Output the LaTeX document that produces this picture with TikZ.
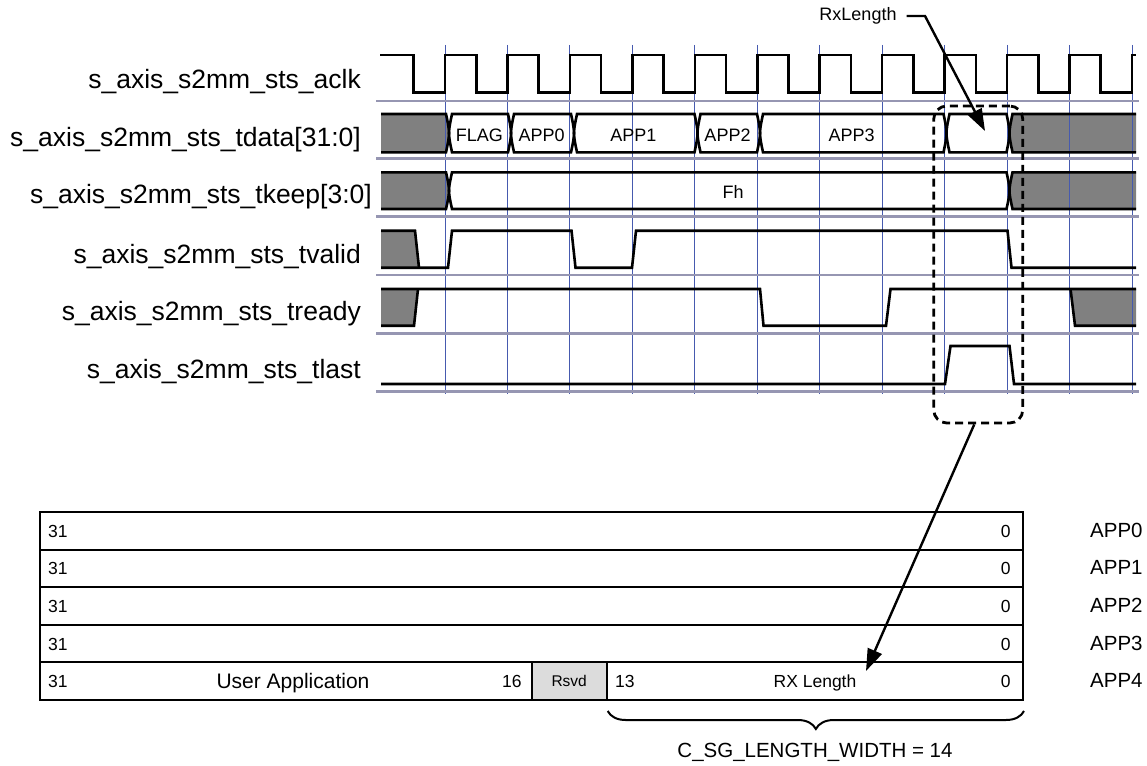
\documentclass[tikz,border=0pt]{standalone}
\usepackage{fontspec}
\setmainfont{Liberation Sans}
\usetikzlibrary{arrows.meta,decorations.pathreplacing}
\definecolor{gridblue}{RGB}{70,90,175}
\definecolor{sepgray}{RGB}{150,150,178}
\definecolor{wavegray}{RGB}{128,128,128}
\definecolor{rsvdgray}{RGB}{220,220,220}
\newcommand\segcc[5]{\path[#1] ({#2+3},#4) -- ({#3-3},#4) .. controls ({#3+1},{(#4+#5)/2}) .. ({#3-3},#5) -- ({#2+3},#5) .. controls ({#2-1},{(#4+#5)/2}) .. cycle;}
\tikzset{
 siglbl/.style={anchor=base east, inner sep=0pt, font=\fontsize{26.5}{30}\selectfont},
 buslbl/.style={anchor=base, inner sep=0pt, font=\fontsize{18}{20}\selectfont},
 reglbl/.style={anchor=base, inner sep=0pt, font=\fontsize{17.5}{20}\selectfont},
 applbl/.style={anchor=base west, inner sep=0pt, font=\fontsize{20.5}{24}\selectfont},
 wave/.style={line width=2.6pt, line join=miter},
 gridln/.style={line width=0.9pt, draw=gridblue},
 sepln/.style={line width=2.6pt, draw=sepgray},
 regrow/.style={draw, line width=2pt, minimum width=983pt, minimum height=37.6pt, inner sep=0pt},
 selbox/.style={draw, line width=2.8pt, dash pattern=on 8pt off 5pt, rounded corners=13pt, minimum width=89pt, minimum height=317pt, inner sep=0pt},
 arr/.style={line width=2.4pt, -{Triangle[length=22pt,width=15pt]}},
 bracestyle/.style={line width=2pt, decorate, decoration={brace, mirror, amplitude=18pt}},
}
\begin{document}
\begin{tikzpicture}[x=1pt,y=-1pt]
\useasboundingbox (0,0) rectangle (1147,765);

% grey fills
\fill[wavegray] (381,114) -- (446,114) .. controls (450,133.15) .. (446,152.3) -- (381,152.3) -- cycle;
\fill[wavegray] (1136,114) -- (1012.5,114) .. controls (1008.5,133.15) .. (1012.5,152.3) -- (1136,152.3) -- cycle;
\fill[wavegray] (381,172.3) -- (446,172.3) .. controls (450,190.65) .. (446,209) -- (381,209) -- cycle;
\fill[wavegray] (1136,172.3) -- (1012.5,172.3) .. controls (1008.5,190.65) .. (1012.5,209) -- (1136,209) -- cycle;
\fill[wavegray] (381,230.7) -- (415,230.7) -- (419,267.7) -- (381,267.7) -- cycle;
\fill[wavegray] (381,289) -- (418,289) -- (414,325.7) -- (381,325.7) -- cycle;
\fill[wavegray] (1070.5,289) -- (1136,289) -- (1136,325.7) -- (1075,325.7) -- cycle;

% grid lines
\foreach \i in {0,...,11} \draw[gridln] ({445+62.45*\i},45) -- ({445+62.45*\i},394);
% row separators
\foreach \yy in {101,158.3,216.7,275,333.3,391.7} \draw[sepln] (376,\yy) -- (1139,\yy);

% clock
\draw[wave] (380,55) foreach \i in {0,...,11} { -- ({413.775+62.45*\i},55) -- ({413.775+62.45*\i},92.7) -- ({445+62.45*\i},92.7) -- ({445+62.45*\i},55) } -- (1136,55);

% tdata
\draw[wave] (381,114) -- (446,114) .. controls (450,133.15) .. (446,152.3) -- (381,152.3);
\segcc{draw,wave}{449}{511}{114}{152.3}
\segcc{draw,wave}{511}{574}{114}{152.3}
\segcc{draw,wave}{574}{697.5}{114}{152.3}
\segcc{draw,wave}{697.5}{760}{114}{152.3}
\segcc{draw,wave}{760}{946.5}{114}{152.3}
\segcc{draw,wave}{946.5}{1009.5}{114}{152.3}
\draw[wave] (1136,114) -- (1012.5,114) .. controls (1008.5,133.15) .. (1012.5,152.3) -- (1136,152.3);

% tkeep
\draw[wave] (381,172.3) -- (446,172.3) .. controls (450,190.65) .. (446,209) -- (381,209);
\segcc{draw,wave}{449}{1009.5}{172.3}{209}
\draw[wave] (1136,172.3) -- (1012.5,172.3) .. controls (1008.5,190.65) .. (1012.5,209) -- (1136,209);

% tvalid
\draw[wave] (381,230.7) -- (415,230.7) -- (419,267.7);
\draw[wave] (381,267.7) -- (448,267.7) -- (452,230.7) -- (571.5,230.7) -- (575.5,267.7) -- (632,267.7) -- (636,230.7) -- (1007.5,230.7) -- (1011.5,267.7) -- (1136,267.7);

% tready
\draw[wave] (381,325.7) -- (414,325.7) -- (418,289);
\draw[wave] (381,289) -- (760,289) -- (763.5,325.7) -- (886,325.7) -- (890.5,289) -- (1136,289);
\draw[wave] (1070.5,289) -- (1075,325.7) -- (1136,325.7);

% tlast
\draw[wave] (381,384) -- (945,384) -- (950.5,346) -- (1009.5,346) -- (1014,384) -- (1136,384);

% signal labels
\node[siglbl] (lclk)   at (361,88.3)  {s\_axis\_s2mm\_sts\_aclk};
\node[siglbl] (ldata)  at (361,146.7) {s\_axis\_s2mm\_sts\_tdata[31:0]};
\node[siglbl] (lkeep)  at (372,203)   {s\_axis\_s2mm\_sts\_tkeep[3:0]};
\node[siglbl] (lvalid) at (361,263)   {s\_axis\_s2mm\_sts\_tvalid};
\node[siglbl] (lready) at (361,320)   {s\_axis\_s2mm\_sts\_tready};
\node[siglbl] (llast)  at (361,378.3) {s\_axis\_s2mm\_sts\_tlast};

% bus labels
\node[buslbl] (tflag) at (479.3,141.7) {FLAG};
\node[buslbl] (tapp0) at (541.7,141.7) {APP0};
\node[buslbl] (tapp1) at (633.3,141.7) {APP1};
\node[buslbl] (tapp2) at (727.5,141.7) {APP2};
\node[buslbl] (tapp3) at (851.7,141.7) {APP3};
\node[buslbl] (tfh)   at (733,198.3)   {Fh};

% register table
\foreach \n/\yy in {0/530.8,1/568.4,2/606,3/643.6,4/681.2} {
  \node[regrow] (r\n) at (531.5,\yy) {};
  \node[reglbl, anchor=base west] (hi\n) at (48,\yy+6.5) {31};
  \node[reglbl] (lo\n) at (1005.7,\yy+6.5) {0};
  \node[applbl] (app\n) at (1090,\yy+6.5) {APP\n};
}
\node[reglbl, font=\fontsize{21}{24}\selectfont] (ua) at (293,688.5) {User Application};
\node[reglbl, anchor=base east] (b16) at (521.7,687.7) {16};
\node[draw, line width=2pt, fill=rsvdgray, minimum width=75pt, minimum height=37.6pt, inner sep=0pt, font=\fontsize{15.5}{18}\selectfont] (rsvd) at (569.2,681.2) {Rsvd};
\node[reglbl, anchor=base west] (b13) at (615,687.7) {13};
\node[reglbl] (rxlen) at (815,687.5) {RX Length};

% brace
\draw[bracestyle] ([yshift=-10pt]rsvd.south east) -- ([yshift=-10pt]r4.south east);
\node[anchor=base, inner sep=0pt, font=\fontsize{20.5}{24}\selectfont] (cw) at (815,757.7) {C\_SG\_LENGTH\_WIDTH = 14};

% dashed selection and arrows
\node[selbox] (sel) at (978.25,264.5) {};
\node[buslbl] (rxl) at (858,20.7) {RxLength};
\coordinate (bendA) at (925,16);
\coordinate (tipA) at (985,131);
\coordinate (tipB) at (866,671);
\draw[arr] ([xshift=10pt]rxl.east) -- (bendA) -- (tipA);
\draw[arr] ([xshift=-4pt]sel.south) -- (tipB);
\end{tikzpicture}
\end{document}
